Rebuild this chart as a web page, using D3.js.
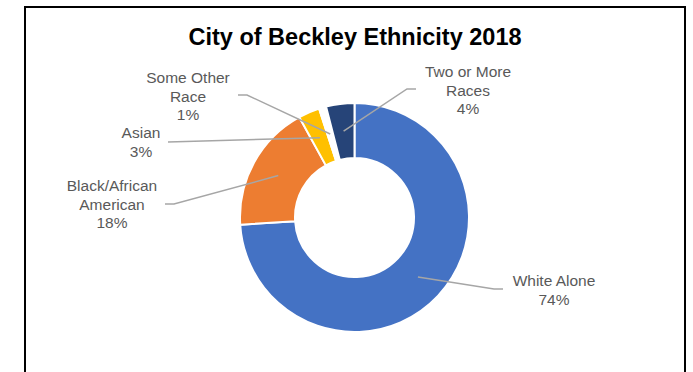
<!DOCTYPE html>
<html>
<head>
<meta charset="utf-8">
<script src="https://cdn.jsdelivr.net/npm/d3@7"></script>
<style>
  html, body { margin: 0; padding: 0; background: #fff; }
  svg { display: block; }
</style>
</head>
<body>
<svg id="chart" width="693" height="372"></svg>
<script>
// Ethnic composition, share of population (%)
const categories = ["White Alone", "Black/African American", "Asian", "Some Other Race", "Two or More Races"];
const values = [74, 18, 3, 1, 4];
const colors = ["#4472C4", "#ED7D31", "#FFC000", "#FFFFFF", "#264478"];
const labelLines = [
  ["White Alone", "74%"],
  ["Black/African", "American", "18%"],
  ["Asian", "3%"],
  ["Some Other", "Race", "1%"],
  ["Two or More", "Races", "4%"]
];

// Callout placement: text centre x, first baseline y, and the leader line's outer end
const calloutLayout = [
  { x: 554, y: 286, lx: 503, ly: 289, side: "right" },
  { x: 112, y: 191, lx: 165, ly: 204, side: "left" },
  { x: 141, y: 138, lx: 168, ly: 142, side: "left", straight: true },
  { x: 188, y: 83,  lx: 238, ly: 95,  side: "left" },
  { x: 468, y: 77,  lx: 416, ly: 89,  side: "right" }
];

const svg = d3.select("#chart");
const cx = 354.5, cy = 217.5;
const outerR = 114.5, innerR = 59.5;

// Frame around the chart area
svg.append("rect")
  .attr("x", 25).attr("y", 7)
  .attr("width", 660).attr("height", 380)
  .attr("fill", "none")
  .attr("stroke", "#000")
  .attr("stroke-width", 2);

// Title
svg.append("text")
  .attr("x", 355).attr("y", 45)
  .attr("text-anchor", "middle")
  .attr("font-family", "'Liberation Sans', Arial, sans-serif")
  .attr("font-weight", "bold")
  .attr("font-size", 23.5)
  .attr("fill", "#000")
  .text("City of Beckley Ethnicity 2018");

const data = categories.map((c, i) => ({ name: c, value: values[i], color: colors[i], lines: labelLines[i], layout: calloutLayout[i] }));

const pie = d3.pie().value(d => d.value).sort(null);
const arcs = pie(data);
const arc = d3.arc().innerRadius(innerR).outerRadius(outerR);

const g = svg.append("g").attr("transform", `translate(${cx},${cy})`);

g.selectAll("path.slice")
  .data(arcs)
  .join("path")
  .attr("class", "slice")
  .attr("d", arc)
  .attr("fill", d => d.data.color)
  .attr("stroke", "#fff")
  .attr("stroke-width", 2)
  .attr("stroke-linejoin", "round");

// Leader lines from each slice's ring centroid to its callout
const leader = svg.append("g");
arcs.forEach(a => {
  const [px, py] = arc.centroid(a);
  const L = a.data.layout;
  const ax = cx + px, ay = cy + py;
  let pts;
  if (L.straight) {
    pts = [[L.lx, L.ly], [ax, ay]];
  } else {
    const kx = L.side === "left" ? L.lx + 9 : L.lx - 9;
    pts = [[L.lx, L.ly], [kx, L.ly], [ax, ay]];
  }
  leader.append("path")
    .attr("d", d3.line()(pts))
    .attr("fill", "none")
    .attr("stroke", "#A6A6A6")
    .attr("stroke-width", 1.5);
});

// Category labels with percentages
const labels = svg.append("g")
  .attr("font-family", "'Liberation Sans', Arial, sans-serif")
  .attr("font-size", 15.5)
  .attr("fill", "#595959")
  .attr("text-anchor", "middle");

data.forEach(d => {
  const t = labels.append("text").attr("x", d.layout.x).attr("y", d.layout.y);
  d.lines.forEach((line, i) => {
    t.append("tspan")
      .attr("x", d.layout.x)
      .attr("dy", i === 0 ? 0 : 18.5)
      .text(line);
  });
});
</script>
</body>
</html>
